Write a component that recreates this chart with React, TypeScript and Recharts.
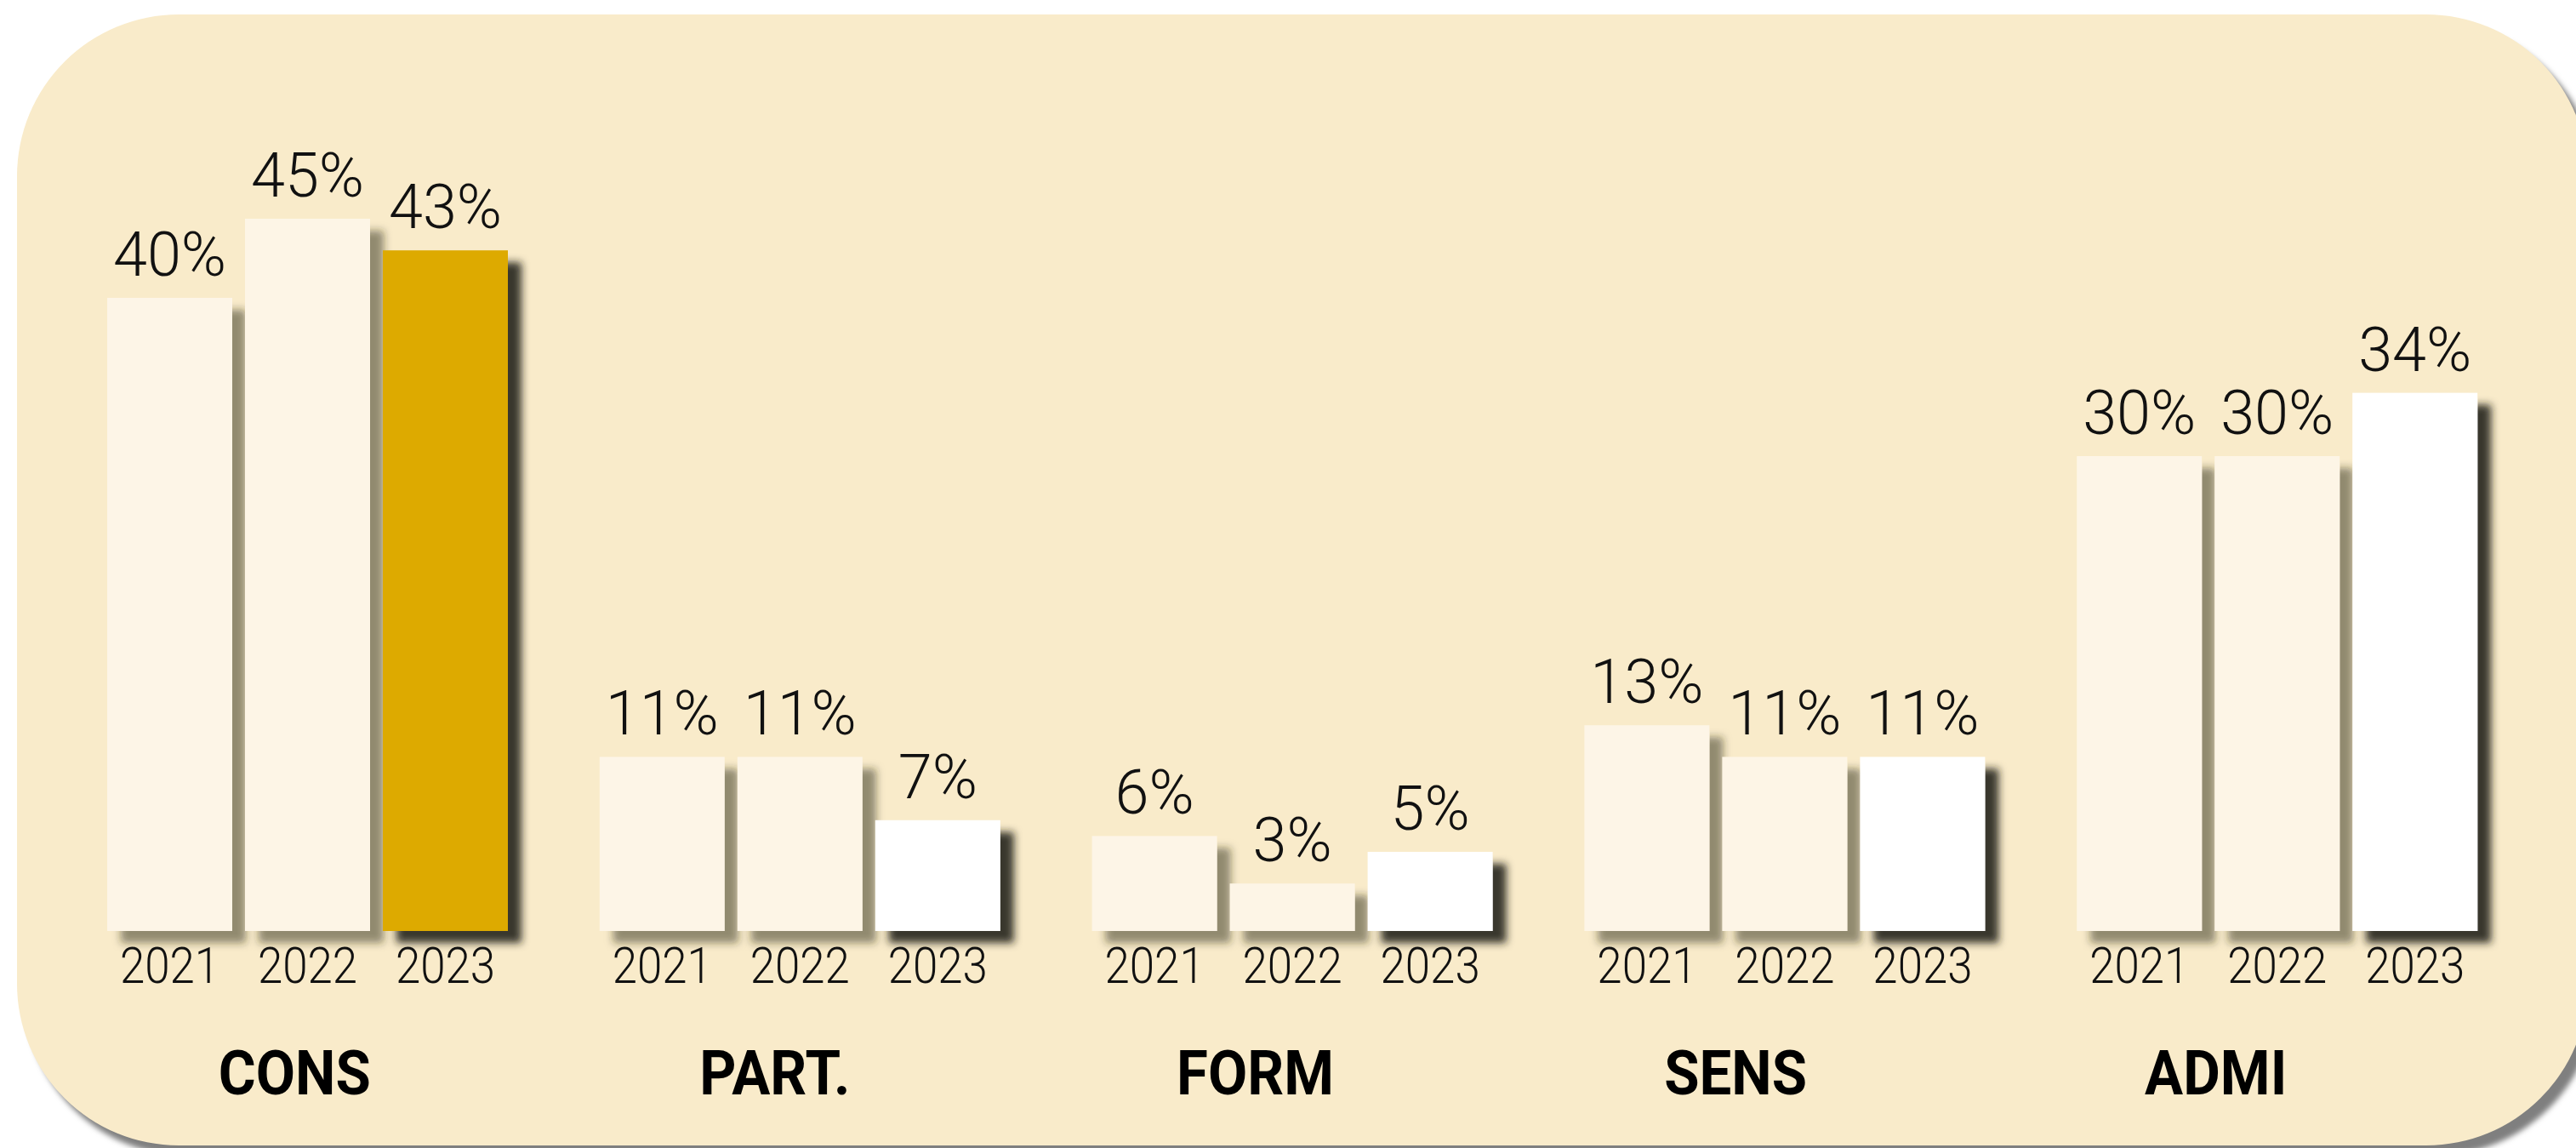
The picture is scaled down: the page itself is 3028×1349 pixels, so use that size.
// Share of activity by area, 2021-2023, drawn as grouped bars on a cream card.

import { BarChart, Bar, XAxis, YAxis, LabelList } from 'recharts'

// ── data ─────────────────────────────────────────────────────────────────────
const categories = ['CONS', 'PART.', 'FORM', 'SENS', 'ADMI']
const years = ['2021', '2022', '2023']
const share2021 = [40, 11, 6, 13, 30]
const share2022 = [45, 11, 3, 11, 30]
const share2023 = [43, 7, 5, 11, 34]
const highlightCategory = 'CONS'

const seriesValues: Record<string, number[]> = {
  '2021': share2021,
  '2022': share2022,
  '2023': share2023,
}

const data = categories.map((cat, i) => {
  const row: Record<string, string | number> = { cat }
  years.forEach((y) => { row[y] = seriesValues[y][i] })
  return row
})

// ── styles ───────────────────────────────────────────────────────────────────
const W = 3028
const H = 1349
const PANEL = '#F9EBCA'
const GOLD = '#DDAA00'
const FONT = "Roboto, 'Noto Sans', sans-serif"
const SERIES_STYLE: Record<string, { fill: string; shadow: string }> = {
  '2021': { fill: '#FDF5E7', shadow: 'bar-shadow-soft' },
  '2022': { fill: '#FDF5E6', shadow: 'bar-shadow-soft' },
  '2023': { fill: '#FFFFFF', shadow: 'bar-shadow-dark' },
}
const lastYear = years[years.length - 1]

function ShadowBar(props: any, year: string) {
  const { x, y, width, height, payload } = props
  const style = SERIES_STYLE[year]
  const fill = year === lastYear && payload?.cat === highlightCategory ? GOLD : style.fill
  return <rect x={x} y={y} width={width} height={height} fill={fill} filter={`url(#${style.shadow})`} />
}

function box(props: any) {
  const vb = props.viewBox && props.viewBox.width != null ? props.viewBox : props
  return { x: Number(vb.x), y: Number(vb.y), width: Number(vb.width), height: Number(vb.height) }
}

function ValueLabel(props: any) {
  const { x, y, width } = box(props)
  return (
    <text x={x + width / 2} y={y - 26} textAnchor="middle" fontFamily={FONT} fontWeight={300} fontSize={72} fill="#111">
      {`${props.value}%`}
    </text>
  )
}

function YearLabel(props: any, year: string) {
  const { x, y, width, height } = box(props)
  const cx = x + width / 2
  const by = y + height + 61
  return (
    <text
      transform={`translate(${cx},${by}) scale(0.88,1)`}
      textAnchor="middle"
      fontFamily={FONT}
      fontWeight={300}
      fontSize={60}
      fill="#111"
    >
      {year}
    </text>
  )
}

function CategoryTick({ x, y, payload }: any) {
  return (
    <text
      transform={`translate(${x},${y + 162}) scale(0.92,1)`}
      textAnchor="middle"
      fontFamily={FONT}
      fontWeight={700}
      fontSize={73}
      fill="#000"
    >
      {payload.value}
    </text>
  )
}

export default function App() {
  return (
    <div style={{ position: 'absolute', left: 0, top: 0, width: W, height: H, overflow: 'hidden', background: '#fff' }}>
      <svg width={0} height={0} style={{ position: 'absolute' }}>
        <defs>
          <filter id="bar-shadow-soft" filterUnits="userSpaceOnUse" x={0} y={0} width={W} height={H}>
            <feDropShadow dx={16} dy={14} stdDeviation={5} floodColor="#2a2618" floodOpacity={0.5} />
          </filter>
          <filter id="bar-shadow-dark" filterUnits="userSpaceOnUse" x={0} y={0} width={W} height={H}>
            <feDropShadow dx={16} dy={14} stdDeviation={5} floodColor="#1f1e16" floodOpacity={0.88} />
          </filter>
        </defs>
      </svg>

      {/* card */}
      <div
        style={{
          position: 'absolute',
          left: 20,
          top: 17,
          width: 3022,
          height: 1329,
          borderRadius: 190,
          background: PANEL,
          boxShadow: '10px 12px 6px rgba(0,0,0,0.5)',
        }}
      />

      <div style={{ position: 'absolute', left: 0, top: 0 }}>
        <BarChart
          width={W}
          height={H}
          data={data}
          margin={{ top: 164, right: 62, bottom: 0, left: 48 }}
          barSize={147}
          barGap={15}
        >
          <XAxis xAxisId={0} dataKey="cat" hide padding={{ left: 24, right: 0 }} />
          <XAxis
            xAxisId="cat"
            dataKey="cat"
            height={255}
            axisLine={false}
            tickLine={false}
            tickSize={0}
            tickMargin={0}
            interval={0}
            padding={{ left: 16, right: 79 }}
            tick={<CategoryTick />}
          />
          <YAxis hide type="number" domain={[0, 50]} />
          {years.map((year) => (
            <Bar
              key={year}
              dataKey={year}
              xAxisId={0}
              isAnimationActive={false}
              shape={(p: any) => ShadowBar(p, year)}
            >
              <LabelList dataKey={year} content={(p: any) => <ValueLabel {...p} />} />
              <LabelList dataKey={year} content={(p: any) => YearLabel(p, year)} />
            </Bar>
          ))}
        </BarChart>
      </div>
    </div>
  )
}
